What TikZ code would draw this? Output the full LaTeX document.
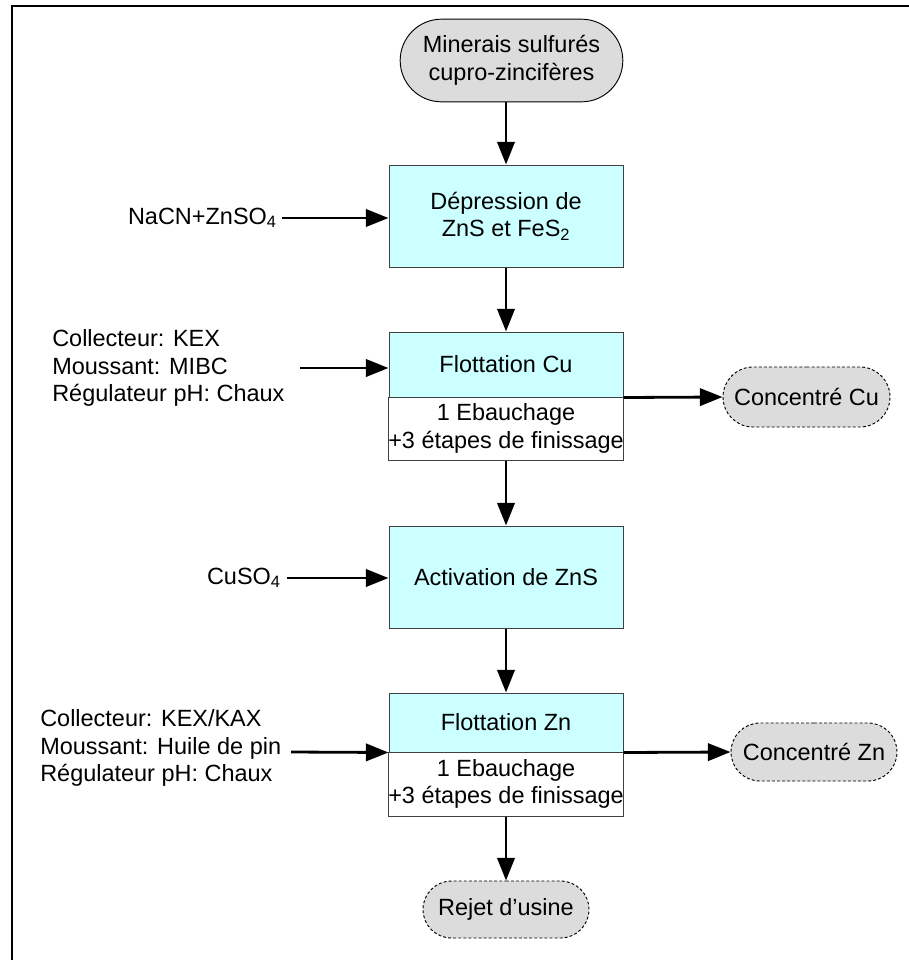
\documentclass[tikz,border=0pt]{standalone}
\usepackage{fontspec}
\setmainfont{Liberation Sans}
\usetikzlibrary{shapes.misc,arrows.meta}

\definecolor{procfill}{HTML}{CCFFFF}
\definecolor{termfill}{HTML}{DCDCDC}
\definecolor{boxline}{HTML}{404040}

\tikzset{
  every node/.style={font=\fontsize{17.6}{20.6}\selectfont},
  terminal/.style={rounded rectangle, draw=black, line width=0.7pt, fill=termfill,
    align=center, inner sep=0pt},
  product/.style={terminal, dash pattern=on 2.2pt off 1.6pt},
  procbox/.style={rectangle, draw=boxline, line width=0.75pt, fill=procfill,
    align=center, inner sep=0pt, minimum width=175.5pt},
  stagebox/.style={procbox, fill=white},
  reagent/.style={align=left, inner sep=0pt},
  flow/.style={line width=2.1pt, -{Triangle[length=17pt,width=13pt]}},
}

\begin{document}
\begin{tikzpicture}[x=0.75pt, y=-0.75pt]
  \useasboundingbox (0,0) rectangle (908,960);
  \fill[white] (0,0) rectangle (908,960);

  % outer frame
  \draw[line width=1.5pt] (11.5,5.5) rectangle (940,990);

  % main line of the flowsheet
  \node[terminal, minimum width=167pt, minimum height=62pt] (src) at (511.5,60.5)
    {Minerais sulfurés\\cupro-zincifères};
  \node[procbox, minimum height=76.5pt] (dep) at (506,216)
    {Dépression de\\ZnS et FeS\textsubscript{2}};
  \node[procbox, minimum height=48.75pt] (fcu) at (506,364.5) {Flottation Cu};
  \node[stagebox, minimum height=47.25pt] (fcus) at (506,428.5)
    {1 Ebauchage\\+3 étapes de finissage};
  \node[procbox, minimum height=76.5pt] (act) at (506,577) {Activation de ZnS};
  \node[procbox, minimum height=44.25pt] (fzn) at (506,722.5) {Flottation Zn};
  \node[stagebox, minimum height=48pt] (fzns) at (506,784)
    {1 Ebauchage\\+3 étapes de finissage};
  \node[product, minimum width=124.5pt, minimum height=42.75pt] (rej) at (506,909.5)
    {Rejet d’usine};

  % concentrates
  \node[product, minimum width=125.25pt, minimum height=45pt] (ccu) at (806.5,397)
    {Concentré Cu};
  \node[product, minimum width=124.5pt, minimum height=43.5pt] (czn) at (814,752)
    {Concentré Zn};

  % reagents
  \node[reagent, anchor=east] (r1) at (277,218) {NaCN+ZnSO\textsubscript{4}};
  \node[reagent, anchor=west] (r2) at (52,368)
    {Collecteur: KEX\\Moussant: MIBC\\Régulateur pH: Chaux};
  \node[reagent, anchor=east] (r3) at (281,578) {CuSO\textsubscript{4}};
  \node[reagent, anchor=west] (r4) at (40,748)
    {Collecteur: KEX/KAX\\Moussant: Huile de pin\\Régulateur pH: Chaux};

  \coordinate (a1) at (282,218);
  \coordinate (a2) at (300,368);
  \coordinate (a3) at (287,578);
  \coordinate (a4) at (291,752);

  % connectors
  \draw[flow] (src.south -| dep.north) -- (dep.north);
  \draw[flow] (dep.south) -- (fcu.north);
  \draw[flow] (fcus.south) -- (act.north);
  \draw[flow] (act.south) -- (fzn.north);
  \draw[flow] (fzns.south) -- (rej.north);

  \draw[flow] (fcu.south east) -- (ccu.west);
  \draw[flow] (fzn.south east) -- (czn.west);

  \draw[flow] (a1) -- (a1 -| dep.west);
  \draw[flow] (a2) -- (a2 -| fcu.west);
  \draw[flow] (a3) -- (a3 -| act.west);
  \draw[flow] (a4) -- (fzn.south west);
\end{tikzpicture}
\end{document}
